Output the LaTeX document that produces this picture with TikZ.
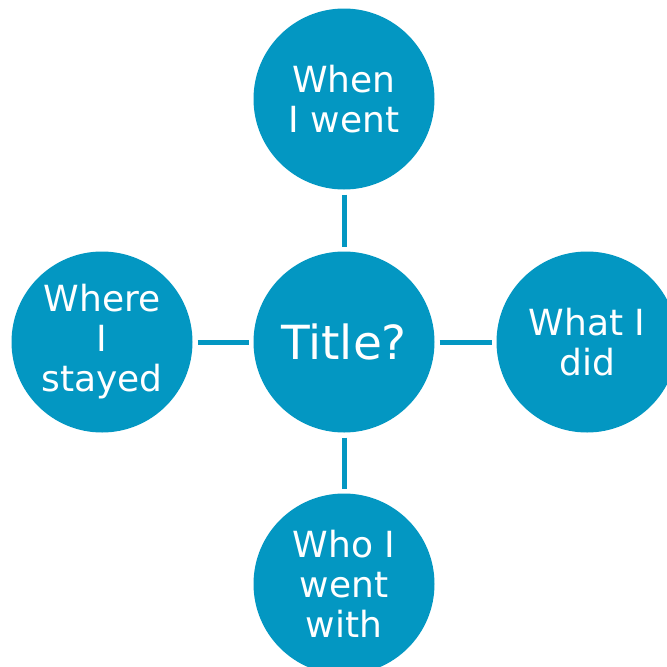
\documentclass[tikz,border=0pt]{standalone}
\usepackage{fontspec}
\setmainfont{DejaVu Sans}
\definecolor{bub}{RGB}{3,151,194}
\begin{document}
\begin{tikzpicture}[x=1pt,y=-1pt,
  bubble/.style={circle,fill=bub,draw=none,minimum size=181pt,inner sep=0pt,
    text=white,align=center,font=\fontsize{36}{40}\selectfont},
  link/.style={draw=bub,line width=5pt,shorten <=5pt,shorten >=4pt}]
\useasboundingbox (0,0) rectangle (667,667);
\node[bubble,font=\fontsize{47}{52}\selectfont] (c) at (344,342) {Title?};
\node[bubble] (t) at (344,99) {When\\I went};
\node[bubble] (r) at (587,342) {What I\\did};
\node[bubble] (l) at (102,342) {Where\\I\\stayed};
\node[bubble] (b) at (344,584) {Who I\\went\\with};
\draw[link] (t) -- (c);
\draw[link] (c) -- (b);
\draw[link] (l) -- (c);
\draw[link] (c) -- (r);
\end{tikzpicture}
\end{document}
